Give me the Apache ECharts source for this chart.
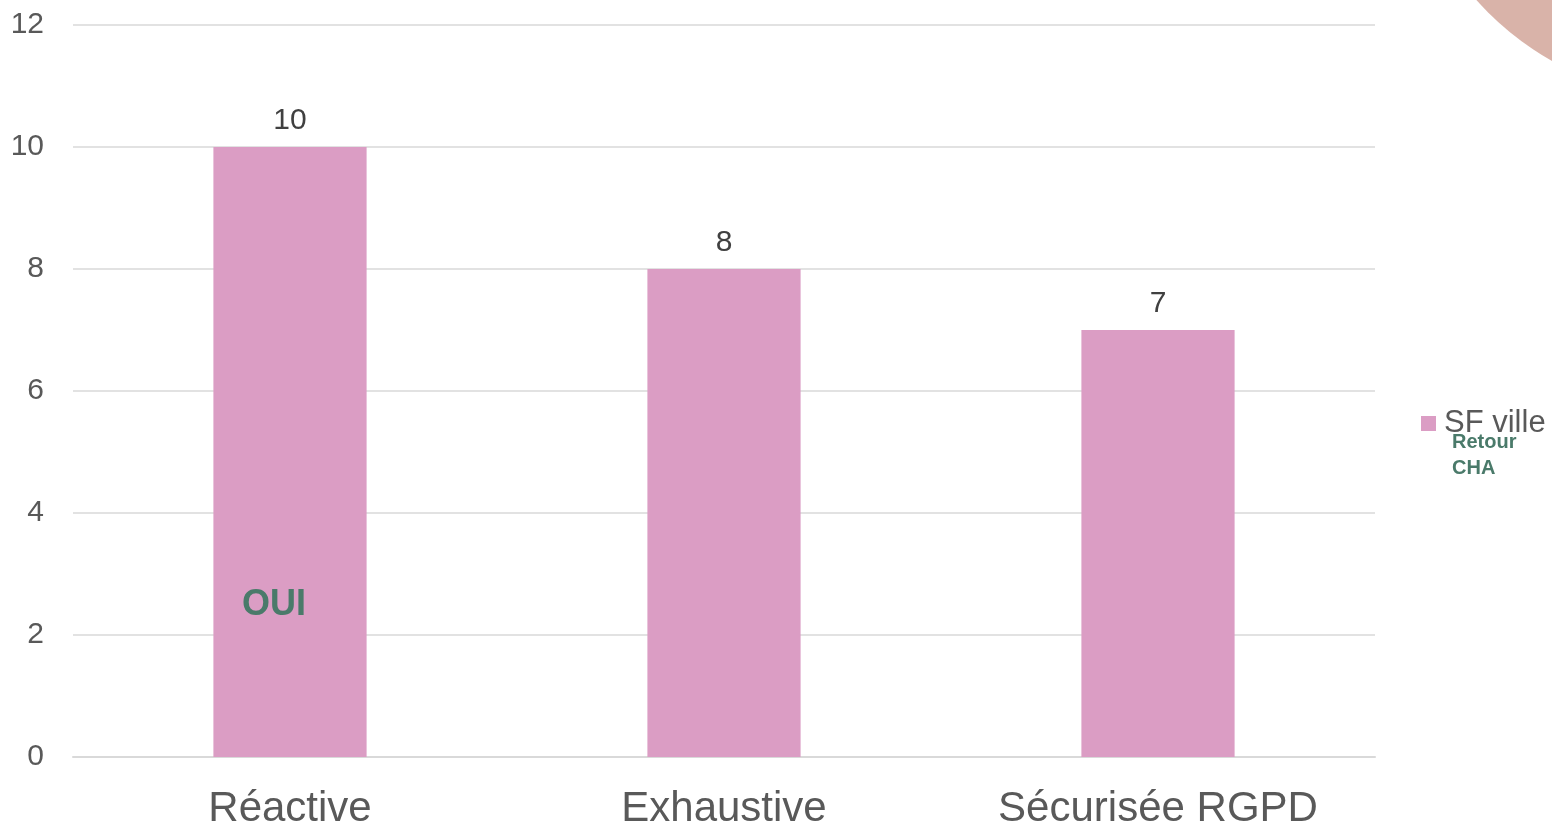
<!DOCTYPE html>
<html><head><meta charset="utf-8">
<script src="https://cdn.jsdelivr.net/npm/echarts@6/dist/echarts.min.js"></script>
<style>html,body{margin:0;padding:0;background:#fff;}#c{width:1552px;height:826px;}</style>
</head><body><div id="c"></div>
<script>
const categories = ['Réactive', 'Exhaustive', 'Sécurisée RGPD'];
const seriesName = 'SF ville';
const values = [10, 8, 7];
const yTicks = [0, 2, 4, 6, 8, 10, 12];

const chart = echarts.init(document.getElementById('c'));
const font = '"Liberation Sans", Arial, sans-serif';
chart.setOption({
  animation: false,
  textStyle: { fontFamily: font },
  grid: { left: 73, right: 177, top: 25, bottom: 69, containLabel: false, outerBoundsMode: 'none' },
  legend: {
    data: [seriesName], left: 1421, top: 408, padding: 0, icon: 'rect', itemWidth: 15, itemHeight: 15, itemGap: 6,
    textStyle: { fontSize: 31, color: '#595959', fontFamily: font, padding: [0, 0, 0, 3] }
  },
  xAxis: {
    type: 'category', data: categories,
    axisLine: { lineStyle: { color: '#D9D9D9', width: 2 } },
    axisTick: { show: false },
    axisLabel: { fontSize: 42, color: '#595959', margin: 31, fontFamily: font }
  },
  yAxis: {
    type: 'value', min: yTicks[0], max: yTicks[yTicks.length - 1], interval: 2,
    axisLine: { show: false }, axisTick: { show: false },
    splitLine: { lineStyle: { color: '#D9D9D9', width: 1.5 } },
    axisLabel: { fontSize: 30, color: '#595959', margin: 29, fontFamily: font }
  },
  series: [{
    name: seriesName, type: 'bar', data: values, barWidth: '35.3%',
    itemStyle: { color: '#DB9DC4' },
    label: { show: true, position: 'top', fontSize: 30, color: '#404040', distance: 11, fontFamily: font }
  }],
  graphic: [
    { type: 'circle', shape: { cx: 1700, cy: -200, r: 300 }, style: { fill: '#D9B3A9' }, silent: true, z: -1 },
    { type: 'text', left: 1452, top: 429, z: 100, style: { text: 'Retour\nCHA', font: 'bold 20px ' + font, fill: '#4A7A6A', lineHeight: 26 } },
    { type: 'text', left: 242, top: 587, z: 100, style: { text: 'OUI', font: 'bold 36px ' + font, fill: '#4A7A6A' } }
  ]
});
</script></body></html>
